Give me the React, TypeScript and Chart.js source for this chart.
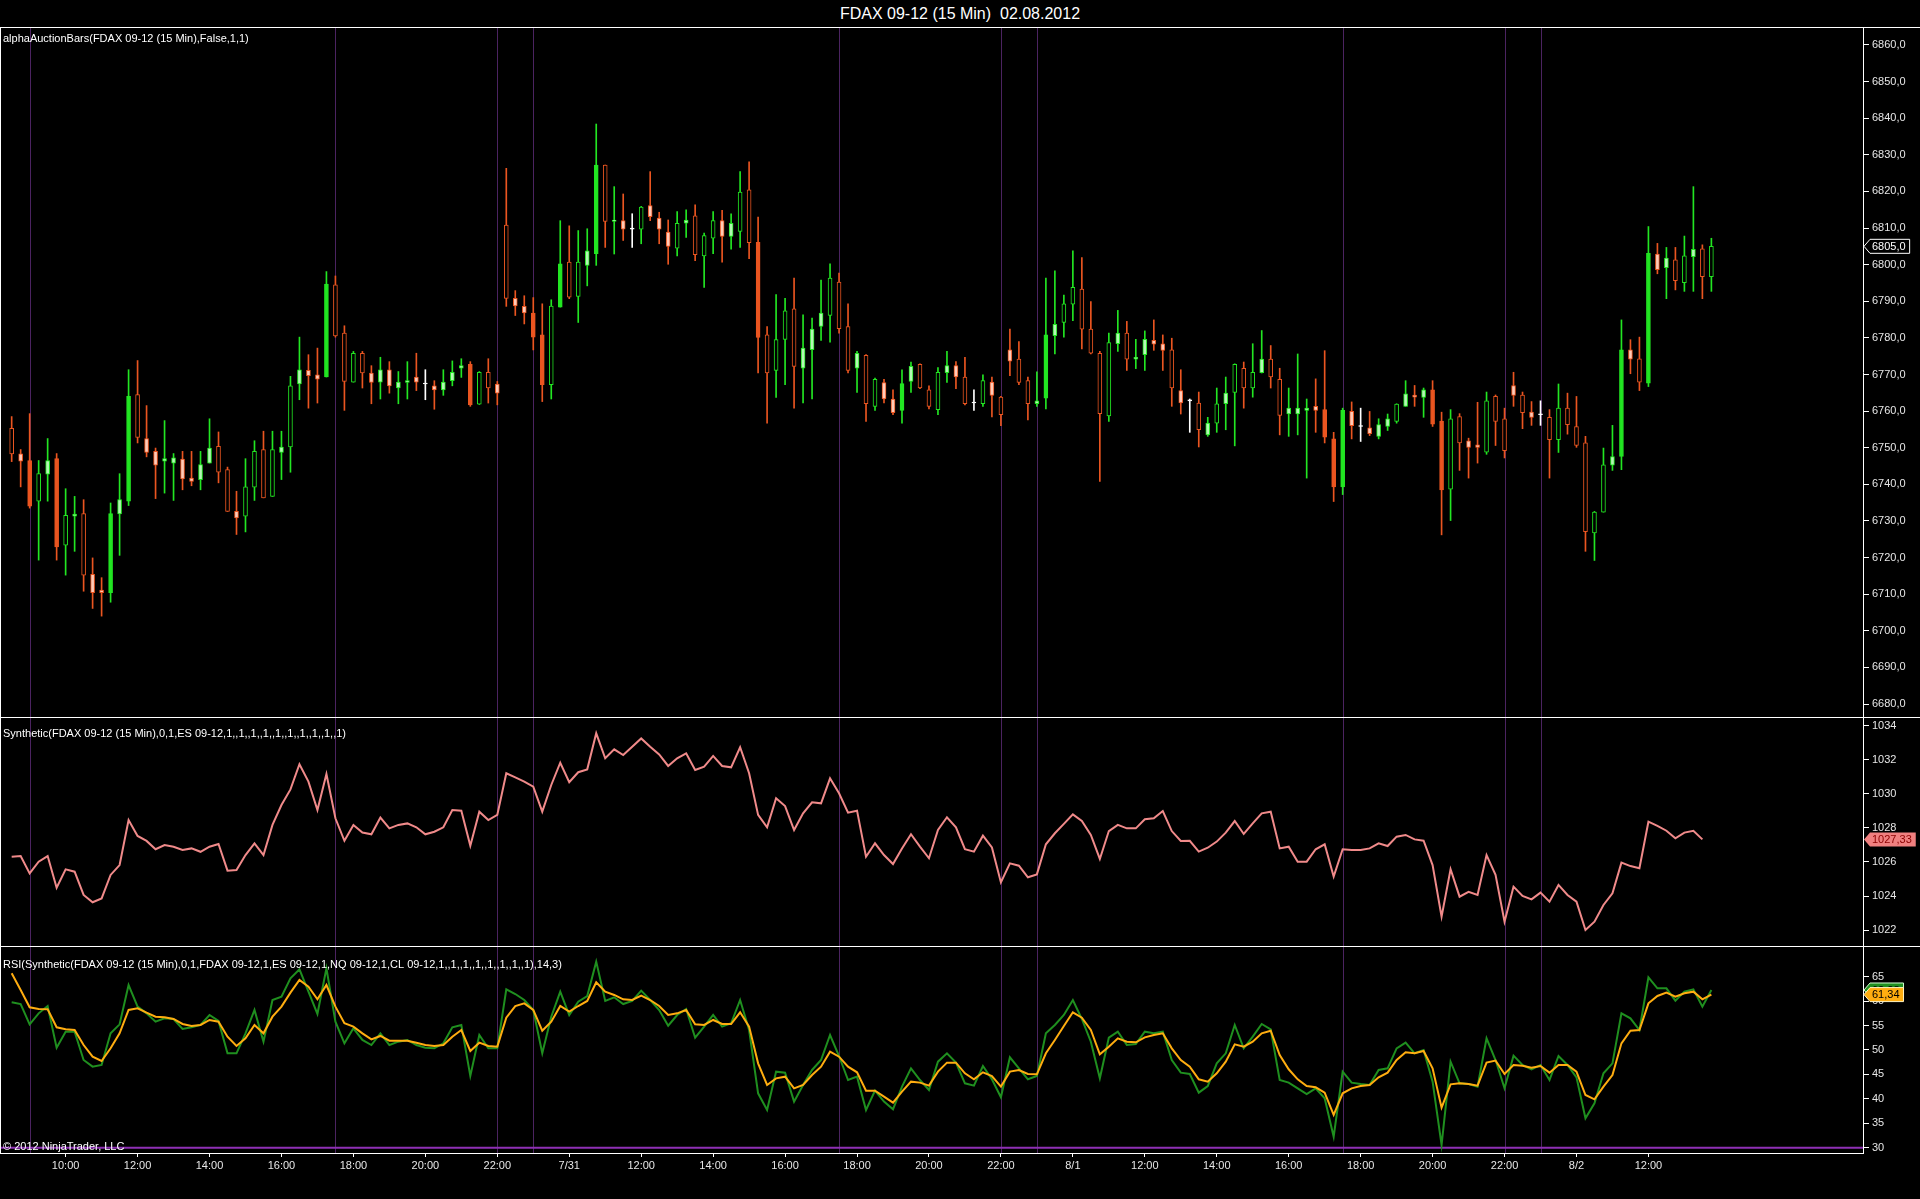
import React, { useEffect, useRef } from "react";
import { Chart, registerables } from "chart.js";

Chart.register(...registerables);

const FONT = "'Liberation Sans', Arial, sans-serif";
const GREEN = "#22e622";
const ORANGE = "#ea5520";
const PALE_GREEN = "#b4f7b4";
const PALE_ORANGE = "#ffcbb8";
const SESSION_COLOR = "#4b2360";
const RSI_LEVEL_COLOR = "#8e2fb5";

const TITLE = "FDAX 09-12 (15 Min)\u00a0\u00a002.08.2012";
const MAIN_LABEL = "alphaAuctionBars(FDAX 09-12 (15 Min),False,1,1)";
const SYN_LABEL = "Synthetic(FDAX 09-12 (15 Min),0,1,ES 09-12,1,,1,,1,,1,,1,,1,,1,,1,,1,,1)";
const RSI_LABEL = "RSI(Synthetic(FDAX 09-12 (15 Min),0,1,FDAX 09-12,1,ES 09-12,1,NQ 09-12,1,CL 09-12,1,,1,,1,,1,,1,,1,,1,,1),14,3)";
const COPYRIGHT = "\u00a9 2012 NinjaTrader, LLC";

// ---- candles (15 min bars) ----
const opens = [
  6755.3, 6748.3, 6746.5, 6735.4, 6742.8, 6747.0, 6723.4, 6731.3, 6732.0, 6715.4,
  6711.1, 6710.4, 6731.9, 6735.4, 6764.5, 6752.5, 6749.0, 6746.3, 6745.8, 6746.9,
  6741.7, 6741.3, 6745.8, 6750.4, 6744.0, 6732.6, 6731.3, 6739.2, 6749.5, 6736.7,
  6748.7, 6750.2, 6767.4, 6771.1, 6769.9, 6769.3, 6794.5, 6781.3, 6767.9, 6775.8,
  6770.4, 6767.9, 6771.3, 6766.3, 6767.8, 6769.3, 6767.4, 6766.9, 6765.8, 6768.3,
  6771.7, 6772.8, 6761.9, 6770.6, 6767.4, 6810.8, 6790.8, 6788.6, 6786.8, 6780.8,
  6767.2, 6788.4, 6800.7, 6791.3, 6799.8, 6803.0, 6827.2, 6811.8, 6812.0, 6809.7,
  6809.7, 6816.1, 6812.7, 6808.9, 6804.5, 6811.3, 6813.3, 6802.4, 6807.2, 6812.0,
  6807.7, 6809.1, 6820.4, 6806.1, 6780.8, 6771.1, 6779.6, 6787.9, 6771.7, 6776.8,
  6783.1, 6786.1, 6795.2, 6783.1, 6771.7, 6775.2, 6761.3, 6767.8, 6763.3, 6760.2,
  6768.1, 6772.8, 6765.8, 6760.4, 6770.5, 6772.4, 6769.3, 6762.2, 6762.0, 6767.9,
  6763.8, 6776.7, 6774.2, 6768.3, 6762.0, 6763.5, 6780.6, 6784.2, 6789.2, 6793.3,
  6782.4, 6775.8, 6758.7, 6778.4, 6781.3, 6774.2, 6775.4, 6779.3, 6778.4, 6776.7,
  6765.6, 6762.8, 6762.2, 6753.5, 6756.7, 6762.0, 6765.1, 6771.7, 6766.3, 6770.5,
  6774.2, 6768.7, 6759.2, 6759.2, 6760.2, 6761.3, 6760.4, 6752.4, 6739.3, 6759.9,
  6755.8, 6755.4, 6753.1, 6755.8, 6757.2, 6761.3, 6764.4, 6763.7, 6765.8, 6757.3,
  6738.7, 6758.5, 6751.9, 6750.8, 6748.8, 6764.0, 6757.9, 6767.0, 6764.4, 6759.7,
  6759.0, 6758.3, 6752.2, 6760.8, 6755.8, 6751.3, 6726.7, 6732.4, 6745.2, 6747.6,
  6776.7, 6774.3, 6767.6, 6802.9, 6799.2, 6801.3, 6795.1, 6802.2, 6804.3, 6796.7,
];

const highs = [
  6758.5, 6749.5, 6759.3, 6746.5, 6752.5, 6748.4, 6738.8, 6736.7, 6735.8, 6719.9,
  6714.5, 6734.9, 6742.9, 6771.3, 6773.8, 6761.5, 6749.9, 6757.4, 6748.4, 6749.0,
  6749.0, 6749.0, 6757.9, 6754.3, 6744.7, 6738.1, 6747.0, 6751.9, 6754.5, 6754.5,
  6754.5, 6769.5, 6780.2, 6775.4, 6777.2, 6798.1, 6796.9, 6783.3, 6776.3, 6776.3,
  6772.4, 6774.7, 6773.5, 6770.8, 6773.5, 6775.8, 6771.3, 6768.3, 6771.3, 6773.7,
  6774.3, 6773.5, 6770.8, 6774.3, 6768.1, 6826.3, 6792.9, 6791.5, 6791.0, 6789.3,
  6790.4, 6812.0, 6810.6, 6809.3, 6809.8, 6838.4, 6827.2, 6821.3, 6819.3, 6813.9,
  6815.9, 6825.4, 6814.3, 6812.2, 6814.5, 6815.0, 6816.3, 6808.6, 6814.5, 6814.8,
  6813.9, 6825.4, 6828.1, 6813.0, 6783.1, 6791.8, 6790.8, 6796.3, 6786.3, 6785.4,
  6795.8, 6800.2, 6797.7, 6789.3, 6776.3, 6775.4, 6769.0, 6768.7, 6765.8, 6771.3,
  6773.4, 6772.9, 6766.9, 6771.9, 6776.3, 6773.5, 6774.7, 6765.8, 6769.9, 6769.3,
  6764.0, 6782.4, 6779.0, 6769.3, 6770.7, 6796.3, 6798.3, 6791.7, 6803.8, 6801.9,
  6789.9, 6776.3, 6781.3, 6787.5, 6784.5, 6779.6, 6781.9, 6784.9, 6780.8, 6779.9,
  6771.3, 6763.3, 6765.2, 6758.3, 6766.3, 6769.3, 6772.9, 6773.4, 6778.4, 6782.0,
  6777.9, 6771.7, 6766.3, 6775.6, 6763.3, 6768.8, 6776.5, 6754.2, 6760.8, 6762.5,
  6760.8, 6759.9, 6757.9, 6759.2, 6762.0, 6768.3, 6767.0, 6766.3, 6768.3, 6759.7,
  6760.4, 6759.3, 6752.6, 6762.4, 6765.2, 6764.4, 6760.8, 6770.6, 6765.2, 6762.6,
  6762.8, 6760.4, 6767.4, 6764.9, 6764.0, 6753.1, 6732.6, 6749.9, 6756.1, 6784.9,
  6779.5, 6780.2, 6810.4, 6805.8, 6804.7, 6804.7, 6807.8, 6821.3, 6805.4, 6807.2,
];

const lows = [
  6746.2, 6739.3, 6733.5, 6719.3, 6735.4, 6719.3, 6715.2, 6721.7, 6710.8, 6706.1,
  6704.0, 6707.8, 6720.6, 6734.2, 6751.3, 6747.5, 6736.1, 6737.6, 6735.6, 6738.5,
  6739.6, 6738.5, 6745.8, 6740.4, 6732.6, 6726.3, 6727.0, 6735.6, 6736.3, 6736.7,
  6741.3, 6743.3, 6763.1, 6760.8, 6762.2, 6769.3, 6780.2, 6760.2, 6767.9, 6766.3,
  6762.0, 6763.3, 6764.9, 6762.0, 6763.3, 6765.6, 6763.1, 6760.5, 6764.3, 6766.9,
  6769.2, 6761.3, 6761.8, 6762.2, 6761.7, 6788.6, 6786.1, 6783.8, 6776.7, 6762.6,
  6763.3, 6788.4, 6790.7, 6784.2, 6794.2, 6799.8, 6804.7, 6802.9, 6806.6, 6804.7,
  6805.7, 6812.0, 6805.7, 6800.1, 6802.4, 6807.4, 6801.1, 6793.8, 6803.0, 6800.7,
  6804.2, 6804.7, 6801.6, 6770.4, 6756.7, 6763.7, 6767.2, 6760.8, 6762.2, 6763.3,
  6779.3, 6778.8, 6781.3, 6770.4, 6765.1, 6757.2, 6760.2, 6762.2, 6759.0, 6756.7,
  6765.1, 6766.1, 6760.6, 6759.0, 6767.8, 6766.1, 6761.7, 6760.2, 6761.3, 6758.4,
  6756.0, 6769.7, 6767.2, 6757.6, 6761.3, 6760.6, 6775.6, 6780.2, 6784.7, 6777.0,
  6775.6, 6740.8, 6757.2, 6776.3, 6771.1, 6771.6, 6771.1, 6776.6, 6771.1, 6761.3,
  6759.2, 6754.2, 6750.2, 6753.1, 6754.2, 6754.9, 6750.5, 6760.8, 6763.8, 6770.4,
  6766.3, 6753.5, 6753.1, 6753.5, 6741.7, 6754.2, 6751.3, 6735.3, 6737.2, 6752.4,
  6751.7, 6753.3, 6752.4, 6754.7, 6756.7, 6761.3, 6761.3, 6758.3, 6755.8, 6726.2,
  6730.1, 6743.8, 6741.7, 6745.8, 6748.2, 6750.6, 6747.2, 6761.3, 6755.2, 6756.1,
  6756.1, 6741.7, 6748.7, 6753.7, 6750.1, 6721.7, 6719.2, 6732.4, 6743.8, 6744.0,
  6770.2, 6765.6, 6766.7, 6797.5, 6790.7, 6793.1, 6792.7, 6792.7, 6790.7, 6792.7,
];

const closes = [
  6748.3, 6746.3, 6734.0, 6742.9, 6746.5, 6722.9, 6731.5, 6731.9, 6715.2, 6710.4,
  6710.4, 6732.0, 6735.8, 6764.0, 6752.8, 6748.7, 6745.2, 6747.0, 6747.2, 6741.5,
  6740.8, 6745.4, 6749.9, 6743.3, 6732.6, 6730.8, 6739.3, 6749.0, 6736.3, 6749.5,
  6750.2, 6766.9, 6771.3, 6769.7, 6768.7, 6794.7, 6780.5, 6768.1, 6775.8, 6770.4,
  6767.8, 6771.3, 6766.9, 6767.9, 6768.3, 6767.9, 6767.4, 6765.8, 6767.9, 6770.6,
  6772.4, 6761.7, 6770.6, 6766.3, 6764.9, 6790.8, 6788.7, 6786.8, 6780.2, 6767.2,
  6788.7, 6800.2, 6791.1, 6800.7, 6803.8, 6827.2, 6811.8, 6812.2, 6809.7, 6809.7,
  6815.7, 6813.1, 6809.7, 6805.0, 6811.3, 6812.2, 6802.7, 6807.9, 6812.0, 6807.7,
  6811.3, 6819.8, 6806.0, 6780.1, 6770.4, 6779.5, 6787.4, 6772.2, 6777.2, 6782.4,
  6786.8, 6796.3, 6782.5, 6771.1, 6775.8, 6762.0, 6768.7, 6763.3, 6759.6, 6767.5,
  6772.2, 6766.3, 6761.3, 6770.6, 6772.4, 6769.3, 6762.0, 6762.2, 6768.3, 6764.3,
  6759.0, 6773.6, 6767.8, 6762.0, 6762.8, 6780.8, 6783.7, 6789.3, 6793.8, 6782.4,
  6775.8, 6759.3, 6778.7, 6781.3, 6774.2, 6774.7, 6779.6, 6778.3, 6776.6, 6766.3,
  6762.2, 6762.8, 6754.9, 6756.7, 6762.0, 6764.9, 6772.8, 6766.3, 6770.6, 6774.2,
  6769.3, 6758.8, 6760.8, 6760.8, 6760.8, 6760.2, 6752.9, 6739.3, 6760.2, 6756.0,
  6755.8, 6753.8, 6756.3, 6757.9, 6761.9, 6764.7, 6763.8, 6765.8, 6756.4, 6738.5,
  6757.9, 6751.3, 6750.1, 6750.1, 6762.8, 6757.2, 6749.2, 6764.3, 6759.6, 6758.3,
  6759.0, 6752.2, 6760.8, 6756.3, 6750.6, 6727.1, 6732.4, 6745.3, 6747.6, 6776.7,
  6774.2, 6767.9, 6803.1, 6798.6, 6801.8, 6795.6, 6802.4, 6804.2, 6796.7, 6805.0,
];

// body drawing kind per bar: S = solid, H = hollow, P = pale fill, D = doji
const bodyStyles = (
  "HPSHPSHPHP" + "PSPSHPPPPP" + "PPPHHPHHHH" + "PHPPPSHHHH" + "PPPPPPDPPP" +
  "PSHHPHPPSS" + "HSHHPSHPPD" + "HPPPHPHHHP" + "PHHSHHHHPP" + "PHHHPHHPPS" +
  "PHHHPPHDHP" + "HPHHPSPHHH" + "HHHPHPPPPH" + "PDHPHPHHHP" + "HHPPPPSSSP" +
  "DPPPHPPPSS" + "HHPPHHHPHP" + "DHHHHHHHPS" + "PHSPPHHPHH"
).split("");

// ---- Synthetic index ----
const synthetic = [
  1026.31, 1026.35, 1025.33, 1026.02, 1026.35, 1024.49, 1025.57, 1025.43, 1024.06, 1023.63,
  1023.86, 1025.24, 1025.82, 1028.47, 1027.53, 1027.24, 1026.75, 1027.0, 1026.9, 1026.71,
  1026.8, 1026.6, 1026.9, 1027.06, 1025.49, 1025.53, 1026.41, 1027.1, 1026.41, 1028.18,
  1029.35, 1030.27, 1031.75, 1030.73, 1029.06, 1031.18, 1028.57, 1027.25, 1028.18, 1027.73,
  1027.63, 1028.61, 1027.98, 1028.18, 1028.27, 1028.04, 1027.63, 1027.78, 1028.04, 1029.06,
  1029.02, 1026.95, 1028.96, 1028.47, 1028.77, 1031.22, 1030.98, 1030.73, 1030.43, 1028.96,
  1030.53, 1031.84, 1030.69, 1031.28, 1031.45, 1033.57, 1032.1, 1032.63, 1032.29, 1032.78,
  1033.27, 1032.78, 1032.33, 1031.65, 1032.1, 1032.39, 1031.41, 1031.61, 1032.24, 1031.65,
  1031.57, 1032.75, 1031.22, 1028.77, 1028.04, 1029.75, 1029.29, 1027.88, 1028.86, 1029.51,
  1029.45, 1030.92, 1030.04, 1028.9, 1029.02, 1026.31, 1027.1, 1026.41, 1025.88, 1026.8,
  1027.63, 1026.9, 1026.22, 1027.88, 1028.63, 1028.04, 1026.75, 1026.61, 1027.55, 1026.86,
  1024.8, 1025.92, 1025.78, 1025.1, 1025.27, 1027.04, 1027.69, 1028.24, 1028.8, 1028.41,
  1027.59, 1026.18, 1027.82, 1028.18, 1027.98, 1027.98, 1028.51, 1028.57, 1029.0, 1027.82,
  1027.24, 1027.25, 1026.61, 1026.84, 1027.2, 1027.73, 1028.41, 1027.65, 1028.27, 1028.86,
  1028.96, 1026.8, 1026.9, 1026.02, 1026.02, 1026.75, 1027.04, 1025.14, 1026.75, 1026.71,
  1026.71, 1026.8, 1027.1, 1026.94, 1027.49, 1027.59, 1027.33, 1027.25, 1025.82, 1022.78,
  1025.57, 1023.96, 1024.25, 1024.06, 1026.41, 1025.24, 1022.49, 1024.55, 1024.0, 1023.8,
  1024.2, 1023.67, 1024.65, 1024.06, 1023.67, 1022.0, 1022.49, 1023.47, 1024.16, 1025.96,
  1025.76, 1025.63, 1028.37, 1028.12, 1027.84, 1027.39, 1027.73, 1027.84, 1027.33, null,
];

// ---- RSI (green) and its average (orange) ----
const rsi = [
  59.76, 59.4, 55.25, 57.5, 59.0, 50.48, 53.75, 53.75, 47.95, 46.59,
  46.93, 53.41, 55.25, 63.3, 58.87, 57.5, 55.8, 56.48, 56.35, 54.3,
  54.64, 55.12, 57.16, 55.94, 49.32, 49.32, 53.41, 58.19, 51.7, 60.23,
  60.92, 64.67, 66.51, 61.94, 57.37, 66.71, 55.8, 51.36, 54.44, 52.05,
  51.02, 53.41, 51.02, 51.7, 52.05, 51.02, 50.48, 50.34, 51.36, 54.64,
  55.12, 44.7, 53.07, 50.34, 50.34, 62.42, 61.46, 60.23, 58.19, 49.32,
  56.82, 61.94, 57.16, 59.89, 61.05, 68.08, 60.03, 60.78, 59.41, 60.03,
  62.14, 60.23, 58.19, 54.98, 57.16, 58.39, 52.52, 54.78, 57.16, 54.78,
  55.46, 60.23, 54.09, 41.13, 37.72, 45.57, 45.36, 39.43, 42.84, 45.91,
  47.95, 53.07, 48.77, 43.86, 44.54, 37.72, 41.68, 39.43, 37.86, 42.5,
  46.25, 43.86, 41.81, 47.61, 49.32, 47.41, 43.18, 42.7, 46.73, 44.0,
  40.32, 48.5, 46.25, 44.0, 44.68, 53.41, 55.12, 57.16, 60.23, 56.35,
  51.7, 44.2, 52.52, 53.75, 51.02, 51.23, 53.75, 53.41, 53.75, 47.95,
  45.36, 45.09, 41.27, 42.63, 47.27, 49.32, 55.12, 50.34, 52.73, 55.32,
  54.23, 43.86, 43.32, 42.15, 40.99, 42.15, 40.11, 32.26, 45.57, 43.32,
  43.04, 42.84, 45.91, 46.25, 50.34, 51.5, 49.32, 50.0, 43.52, 30.56,
  47.61, 43.18, 43.04, 42.5, 52.39, 47.95, 42.15, 48.84, 46.93, 46.05,
  46.93, 43.86, 48.77, 46.93, 44.41, 36.02, 39.09, 45.23, 47.27, 57.5,
  56.48, 54.09, 64.87, 62.62, 62.62, 60.1, 61.94, 62.42, 58.87, 62.28,
];

const rsiAvg = [
  65.69, 62.28, 58.73, 58.39, 58.32, 54.64, 54.23, 54.09, 51.02, 48.63,
  47.75, 50.34, 53.41, 58.19, 58.53, 57.64, 56.82, 56.69, 56.35, 55.32,
  54.91, 55.12, 56.14, 55.8, 52.73, 50.82, 52.39, 55.12, 53.41, 56.82,
  58.87, 61.73, 64.33, 62.96, 60.37, 63.3, 58.87, 55.46, 54.78, 53.41,
  52.18, 52.87, 51.91, 51.91, 51.91, 51.5, 51.02, 50.82, 51.02, 52.73,
  54.09, 49.8, 51.5, 50.82, 50.68, 56.62, 59.0, 59.55, 58.19, 53.95,
  55.8, 59.0, 57.85, 59.0, 60.03, 63.85, 61.94, 61.26, 60.37, 60.23,
  61.12, 60.23, 59.0, 57.16, 57.5, 58.19, 55.25, 55.12, 56.14, 55.32,
  55.32, 57.71, 54.78, 47.27, 42.84, 44.2, 44.54, 42.15, 42.84, 44.88,
  46.59, 49.66, 48.63, 46.59, 45.43, 41.68, 41.68, 40.45, 39.22, 41.47,
  43.52, 43.32, 42.7, 45.57, 47.41, 47.41, 45.23, 44.0, 45.43, 44.68,
  42.5, 45.57, 45.91, 45.09, 45.02, 49.32, 52.05, 54.91, 57.71, 56.62,
  54.09, 49.11, 50.68, 52.39, 51.7, 51.57, 52.59, 53.07, 53.41, 50.34,
  47.95, 46.59, 44.0, 43.52, 45.23, 47.61, 51.16, 50.68, 51.7, 53.41,
  53.95, 48.98, 46.05, 44.0, 42.63, 42.36, 41.27, 36.7, 41.13, 42.15,
  42.63, 42.84, 44.41, 45.36, 47.95, 49.52, 49.32, 49.8, 46.25, 38.2,
  42.97, 43.18, 43.04, 42.7, 47.41, 47.82, 45.09, 46.93, 46.79, 46.39,
  46.73, 45.36, 46.93, 46.93, 45.57, 40.79, 39.9, 42.5, 44.88, 51.36,
  53.95, 54.09, 59.55, 61.05, 61.73, 60.92, 61.6, 61.94, 60.37, 61.34,
];

// ---- axes ----
const priceTicks = [6680, 6690, 6700, 6710, 6720, 6730, 6740, 6750, 6760, 6770, 6780, 6790, 6800, 6810, 6820, 6830, 6840, 6850, 6860];
const synthTicks = [1022, 1024, 1026, 1028, 1030, 1032, 1034];
const rsiTicks = [30, 35, 40, 45, 50, 55, 60, 65];
const rsiLevel = 30;
const sessionLineBars = [2, 36, 54, 58, 92, 110, 114, 148, 166, 170];
const timeLabelBars = [6, 14, 22, 30, 38, 46, 54, 62, 70, 78, 86, 94, 102, 110, 118, 126, 134, 142, 150, 158, 166, 174, 182];
const timeLabels = ["10:00", "12:00", "14:00", "16:00", "18:00", "20:00", "22:00", "7/31", "12:00", "14:00", "16:00", "18:00", "20:00", "22:00", "8/1", "12:00", "14:00", "16:00", "18:00", "20:00", "22:00", "8/2", "12:00"];

// ---- layout ----
const W = 1920;
const AXIS_W = 57;
const X_MIN = -1.2977;
const X_MAX = 205.86;
const P1_TOP = 27, P1_H = 690;
const P2_TOP = 717, P2_H = 229;
const P3_TOP = 946, P3_H = 253;
const XAXIS_H = 46;

const candleColor = (i: number) =>
  closes[i] > opens[i] ? GREEN : closes[i] < opens[i] ? ORANGE : "#ffffff";

const bodyFill = (i: number) => {
  const c = candleColor(i);
  const s = bodyStyles[i];
  if (c === "#ffffff" || s === "S" || s === "D") return c;
  if (s === "P") return c === GREEN ? PALE_GREEN : PALE_ORANGE;
  return "#000000";
};

const comma = (v: number, d: number) => v.toFixed(d).replace(".", ",");

const xHidden = () => ({
  type: "linear",
  min: X_MIN,
  max: X_MAX,
  offset: false,
  display: false,
});

const yAxis = (min: number, max: number, ticks: number[], fmt: (v: number) => string) => ({
  type: "linear",
  position: "right",
  min,
  max,
  afterFit: (s: any) => {
    s.width = AXIS_W;
    s.paddingTop = 0;
    s.paddingBottom = 0;
  },
  afterBuildTicks: (s: any) => {
    s.ticks = ticks.map((v) => ({ value: v }));
  },
  grid: { drawOnChartArea: false, color: "#ffffff", tickLength: 6, tickWidth: 1 },
  border: { display: true, color: "#ffffff", width: 1 },
  ticks: {
    color: "#e6e6e6",
    font: { family: FONT, size: 11 },
    padding: 3,
    autoSkip: false,
    callback: (v: any) => fmt(Number(v)),
  },
});

const drawSessionLines = (chart: any) => {
  const { ctx, chartArea, scales } = chart;
  ctx.save();
  ctx.strokeStyle = SESSION_COLOR;
  ctx.lineWidth = 1;
  sessionLineBars.forEach((b) => {
    const x = Math.round(scales.x.getPixelForValue(b)) + 0.5;
    ctx.beginPath();
    ctx.moveTo(x, chartArea.top);
    ctx.lineTo(x, chartArea.bottom);
    ctx.stroke();
  });
  ctx.restore();
};

const drawFrame = (chart: any, label: string, labelY: number) => {
  const { ctx, chartArea } = chart;
  ctx.save();
  ctx.strokeStyle = "#ffffff";
  ctx.lineWidth = 1;
  ctx.beginPath();
  ctx.moveTo(0, 0.5);
  ctx.lineTo(chart.width, 0.5);
  ctx.moveTo(0.5, 0);
  ctx.lineTo(0.5, chartArea.bottom);
  ctx.stroke();
  ctx.fillStyle = "#ffffff";
  ctx.font = `11px ${FONT}`;
  ctx.textBaseline = "middle";
  ctx.textAlign = "left";
  ctx.fillText(label, 3, labelY);
  ctx.restore();
};

const drawMarker = (
  chart: any,
  y: number,
  text: string,
  fill: string,
  stroke: string | null,
  textColor: string
) => {
  const { ctx, chartArea } = chart;
  const x0 = chartArea.right + 1;
  ctx.save();
  ctx.font = `11px ${FONT}`;
  const w = ctx.measureText(text).width + 6;
  const h = 14;
  ctx.beginPath();
  ctx.moveTo(x0, y);
  ctx.lineTo(x0 + 6, y - h / 2);
  ctx.lineTo(x0 + 6 + w, y - h / 2);
  ctx.lineTo(x0 + 6 + w, y + h / 2);
  ctx.lineTo(x0 + 6, y + h / 2);
  ctx.closePath();
  ctx.fillStyle = fill;
  ctx.fill();
  if (stroke) {
    ctx.strokeStyle = stroke;
    ctx.lineWidth = 1;
    ctx.stroke();
  }
  ctx.fillStyle = textColor;
  ctx.textBaseline = "middle";
  ctx.textAlign = "left";
  ctx.fillText(text, x0 + 8, y + 0.5);
  ctx.restore();
};

const baseOptions = {
  animation: false,
  responsive: false,
  maintainAspectRatio: false,
  devicePixelRatio: 1,
  events: [],
  layout: { padding: 0 },
};

const lastIndex = (arr: (number | null)[]) => {
  for (let i = arr.length - 1; i >= 0; i--) if (arr[i] != null) return i;
  return -1;
};

function mainConfig(): any {
  return {
    type: "bar",
    data: {
      datasets: [
        {
          type: "bar",
          data: opens.map((o, i) => ({ x: i, y: [o, closes[i]] })),
          backgroundColor: (c: any) => (c.dataIndex == null ? GREEN : bodyFill(c.dataIndex)),
          borderColor: (c: any) => (c.dataIndex == null ? GREEN : candleColor(c.dataIndex)),
          borderWidth: 1,
          borderSkipped: false,
          barThickness: 4,
          minBarLength: 1,
          grouped: false,
          order: 1,
        },
        {
          type: "bar",
          data: opens.map((_o, i) => ({ x: i, y: [lows[i], highs[i]] })),
          backgroundColor: (c: any) => (c.dataIndex == null ? GREEN : candleColor(c.dataIndex)),
          borderWidth: 0,
          barThickness: 1,
          grouped: false,
          order: 2,
        },
      ],
    },
    options: {
      ...baseOptions,
      plugins: { legend: { display: false }, tooltip: { enabled: false }, title: { display: false } },
      scales: {
        x: xHidden(),
        y: yAxis(6676.45, 6864.9, priceTicks, (v) => comma(v, 1)),
      },
    },
    plugins: [
      {
        id: "mainDecor",
        beforeDatasetsDraw: (chart: any) => drawSessionLines(chart),
        afterDraw: (chart: any) => {
          drawFrame(chart, MAIN_LABEL, 12);
          const i = closes.length - 1;
          drawMarker(chart, chart.scales.y.getPixelForValue(closes[i]), comma(closes[i], 1), "#000000", "#ffffff", "#ffffff");
        },
      },
    ],
  };
}

function synthConfig(): any {
  return {
    type: "line",
    data: {
      datasets: [
        {
          data: synthetic.map((v, i) => ({ x: i, y: v })),
          borderColor: "#f08a8a",
          borderWidth: 2,
          pointRadius: 0,
          tension: 0,
          spanGaps: false,
        },
      ],
    },
    options: {
      ...baseOptions,
      plugins: { legend: { display: false }, tooltip: { enabled: false } },
      scales: {
        x: xHidden(),
        y: yAxis(1021.059, 1034.529, synthTicks, (v) => String(Math.round(v))),
      },
    },
    plugins: [
      {
        id: "synthDecor",
        beforeDatasetsDraw: (chart: any) => drawSessionLines(chart),
        afterDraw: (chart: any) => {
          drawFrame(chart, SYN_LABEL, 17);
          const i = lastIndex(synthetic);
          const v = synthetic[i] as number;
          drawMarker(chart, chart.scales.y.getPixelForValue(v), comma(v, 2), "#f08080", null, "#8b0000");
        },
      },
    ],
  };
}

function rsiConfig(): any {
  return {
    type: "line",
    data: {
      datasets: [
        {
          data: rsiAvg.map((v, i) => ({ x: i, y: v })),
          borderColor: "#ffad10",
          borderWidth: 2,
          pointRadius: 0,
          tension: 0,
          order: 1,
        },
        {
          data: rsi.map((v, i) => ({ x: i, y: v })),
          borderColor: "#1f8f1f",
          borderWidth: 2,
          pointRadius: 0,
          tension: 0,
          order: 2,
        },
      ],
    },
    options: {
      ...baseOptions,
      plugins: { legend: { display: false }, tooltip: { enabled: false } },
      scales: {
        x: {
          type: "linear",
          min: X_MIN,
          max: X_MAX,
          offset: false,
          position: "bottom",
          afterFit: (s: any) => {
            s.height = XAXIS_H;
            s.paddingLeft = 0;
            s.paddingRight = 0;
          },
          afterBuildTicks: (s: any) => {
            s.ticks = timeLabelBars.map((v) => ({ value: v }));
          },
          grid: { drawOnChartArea: false, color: "#ffffff", tickLength: 4 },
          border: { display: true, color: "#ffffff", width: 1 },
          ticks: {
            autoSkip: false,
            maxRotation: 0,
            minRotation: 0,
            color: "#e6e6e6",
            font: { family: FONT, size: 11 },
            padding: 2,
            callback: (_v: any, idx: number) => timeLabels[idx],
          },
        },
        y: yAxis(28.917, 71.283, rsiTicks, (v) => String(Math.round(v))),
      },
    },
    plugins: [
      {
        id: "rsiDecor",
        beforeDatasetsDraw: (chart: any) => {
          drawSessionLines(chart);
          const { ctx, chartArea, scales } = chart;
          const y = scales.y.getPixelForValue(rsiLevel);
          ctx.save();
          ctx.strokeStyle = RSI_LEVEL_COLOR;
          ctx.lineWidth = 2;
          ctx.beginPath();
          ctx.moveTo(chartArea.left, y);
          ctx.lineTo(chartArea.right, y);
          ctx.stroke();
          ctx.restore();
        },
        afterDraw: (chart: any) => {
          drawFrame(chart, RSI_LABEL, 19);
          const { ctx } = chart;
          ctx.save();
          ctx.fillStyle = "#ffffff";
          ctx.font = `11px ${FONT}`;
          ctx.textBaseline = "middle";
          ctx.textAlign = "left";
          ctx.fillText(COPYRIGHT, 3, chart.chartArea.bottom - 6);
          ctx.restore();
          const i = rsi.length - 1;
          drawMarker(chart, chart.scales.y.getPixelForValue(rsi[i]), comma(rsi[i], 2), "#1f8f1f", "#d0ffd0", "#000000");
          drawMarker(chart, chart.scales.y.getPixelForValue(rsiAvg[i]), comma(rsiAvg[i], 2), "#ffad10", "#fff2c0", "#000000");
        },
      },
    ],
  };
}

export default function App() {
  const c1 = useRef<HTMLCanvasElement>(null);
  const c2 = useRef<HTMLCanvasElement>(null);
  const c3 = useRef<HTMLCanvasElement>(null);

  useEffect(() => {
    const charts = [
      new Chart(c1.current as HTMLCanvasElement, mainConfig()),
      new Chart(c2.current as HTMLCanvasElement, synthConfig()),
      new Chart(c3.current as HTMLCanvasElement, rsiConfig()),
    ];
    return () => charts.forEach((c) => c.destroy());
  }, []);

  const canvasStyle = (top: number, h: number): React.CSSProperties => ({
    position: "absolute",
    left: 0,
    top,
    width: W,
    height: h,
    display: "block",
  });

  return (
    <div
      style={{
        position: "absolute",
        left: 0,
        top: 0,
        width: W,
        height: 1199,
        background: "#000000",
        overflow: "hidden",
      }}
    >
      <div
        style={{
          position: "absolute",
          left: 0,
          top: 0,
          width: W,
          height: P1_TOP,
          lineHeight: `${P1_TOP}px`,
          textAlign: "center",
          color: "#ffffff",
          fontFamily: FONT,
          fontSize: 16,
          whiteSpace: "pre",
        }}
      >
        {TITLE}
      </div>
      <canvas ref={c1} width={W} height={P1_H} style={canvasStyle(P1_TOP, P1_H)} />
      <canvas ref={c2} width={W} height={P2_H} style={canvasStyle(P2_TOP, P2_H)} />
      <canvas ref={c3} width={W} height={P3_H} style={canvasStyle(P3_TOP, P3_H)} />
    </div>
  );
}
